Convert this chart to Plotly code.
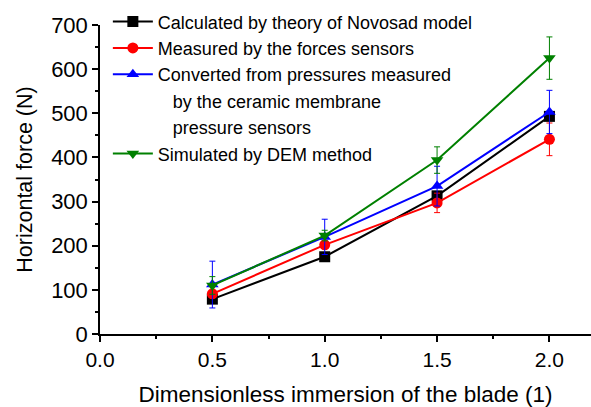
import plotly.graph_objects as go

x = [0.5, 1.0, 1.5, 2.0]
calc = [79, 175, 313, 493]
meas = [91, 202, 297, 441]
meas_err = [8, 8, 22, 37]
conv = [112, 220, 335, 503]
conv_err = [53, 40, 45, 49]
dem = [110, 223, 394, 625]
dem_err = [20, 12, 30, 48]

names = [
    "Calculated by theory of Novosad model",
    "Measured by the forces sensors",
    "Converted from pressures measured",
    "\u00a0\u00a0\u00a0by the ceramic membrane",
    "\u00a0\u00a0\u00a0pressure sensors",
    "Simulated by DEM method",
]

fig = go.Figure()
specs = [
    (calc, None, "black", "square", names[0]),
    (meas, meas_err, "#ff0000", "circle", names[1]),
    (conv, conv_err, "#0000ff", "triangle-up", names[2]),
    (dem, dem_err, "#008000", "triangle-down", names[5]),
]
for i, (ys, err, col, sym, nm) in enumerate(specs):
    kw = {}
    if err is not None:
        kw["error_y"] = dict(type="data", array=err, visible=True, color=col, thickness=1, width=3)
    fig.add_trace(go.Scatter(
        x=x, y=ys, name=nm, mode="lines+markers",
        line=dict(color=col, width=2),
        marker=dict(color=col, symbol=sym, size=11),
        legendrank=[1, 2, 3, 6][i],
        **kw))

# continuation lines of the third legend entry (text only)
for rank, nm in [(4, names[3]), (5, names[4])]:
    fig.add_trace(go.Scatter(
        x=[None], y=[None], name=nm, mode="lines",
        line=dict(color="rgba(0,0,0,0)", width=0),
        hoverinfo="skip", legendrank=rank))

axis_common = dict(
    showgrid=False, zeroline=False, showline=True, linecolor="black", linewidth=1.5,
    ticks="outside", ticklen=6, tickwidth=1.5, tickcolor="black",
    minor=dict(ticks="outside", ticklen=3, tickwidth=1.5, tickcolor="black"),
)
fig.update_xaxes(range=[0, 2.185], tick0=0, dtick=0.5, tickformat=".1f",
                 tickfont=dict(size=21, color="black"),
                 title=dict(text="Dimensionless immersion of the blade (1)", font=dict(size=22.5, color="black"), standoff=16),
                 minor_dtick=0.25, **axis_common)
fig.update_yaxes(range=[0, 700], tick0=0, dtick=100,
                 tickfont=dict(size=22, color="black"),
                 title=dict(text="Horizontal force (N)", font=dict(size=21.5, color="black"), standoff=13),
                 minor_dtick=50, **axis_common)

fig.update_layout(
    width=591, height=407,
    margin=dict(l=100, r=0, t=25, b=73),
    paper_bgcolor="white", plot_bgcolor="white",
    font=dict(family="Liberation Sans, Arial, sans-serif", color="black"),
    legend=dict(x=0.016, y=1.07, xanchor="left", yanchor="top",
                font=dict(size=18, color="black"), bgcolor="rgba(0,0,0,0)",
                tracegroupgap=0, itemwidth=40, traceorder="normal"),
    showlegend=True,
)
fig.write_html("out.html")
